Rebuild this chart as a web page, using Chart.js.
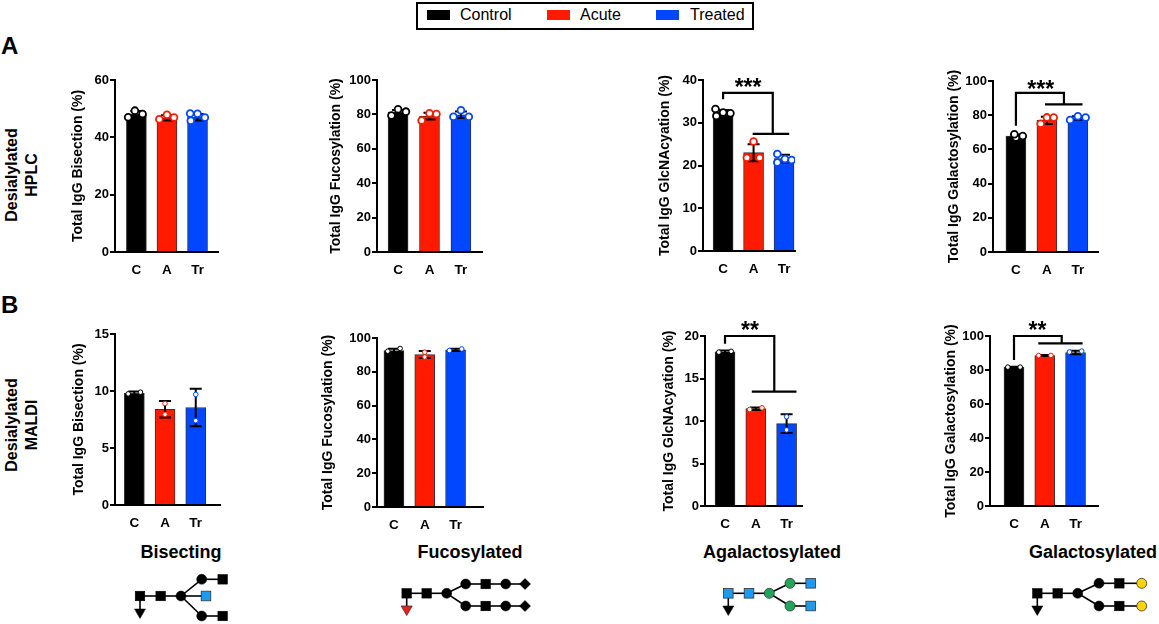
<!DOCTYPE html>
<html>
<head>
<meta charset="utf-8">
<script src="https://cdn.jsdelivr.net/npm/chart.js@4.4.1/dist/chart.umd.min.js"></script>
<style>
  body { margin: 0; width: 1159px; height: 624px; position: relative; background: #fff; overflow: hidden;
         font-family: "Liberation Sans", Arial, sans-serif; color: #000; }
  canvas { position: absolute; }
  .txt { position: absolute; font-weight: bold; white-space: nowrap; }
  #legend { position: absolute; left: 416px; top: 2px; width: 334px; height: 24px; border: 2px solid #000; }
  #legend .sw { position: absolute; top: 6px; width: 23px; height: 10px; }
  #legend .lt { position: absolute; top: 2px; font-size: 16px; line-height: 18px; }
  .row { position: absolute; width: 140px; text-align: center; font-size: 16px; line-height: 20px; font-weight: bold;
         transform: translate(-50%, -50%) rotate(-90deg); }
  .col { position: absolute; font-size: 18px; font-weight: bold; transform: translate(-50%, -50%); white-space: nowrap; }
  svg { position: absolute; left: 0; top: 0; }
</style>
</head>
<body>

<div id="legend">
  <div class="sw" style="left:9px;background:#000"></div><div class="lt" style="left:42px">Control</div>
  <div class="sw" style="left:129px;background:#ff1a00"></div><div class="lt" style="left:162px">Acute</div>
  <div class="sw" style="left:238px;background:#0047ff"></div><div class="lt" style="left:272px">Treated</div>
</div>

<div class="txt" style="left:1px;top:32px;font-size:24px">A</div>
<div class="txt" style="left:1px;top:291px;font-size:24px">B</div>

<div class="row" style="left:22px;top:175px">Desialylated<br>HPLC</div>
<div class="row" style="left:22px;top:425px">Desialylated<br>MALDI</div>

<div class="col" style="left:181px;top:552px">Bisecting</div>
<div class="col" style="left:470px;top:552px">Fucosylated</div>
<div class="col" style="left:772px;top:552px">Agalactosylated</div>
<div class="col" style="left:1093px;top:552px">Galactosylated</div>

<svg id="glycans" width="1159" height="624"></svg>

<script>
const categories = ['C', 'A', 'Tr'];
const groupColors = ['#000000', '#ff1a00', '#0047ff'];

// HPLC (row A)
const hplcBisectionMean = [48.1, 46.8, 47.0];
const hplcBisectionSd = [1.1, 0.9, 1.1];
const hplcBisectionPts = [[47.0, 49.3, 48.1], [46.3, 47.9, 46.9], [48.3, 48.2, 46.9, 45.8]];

const hplcFucosylationMean = [81.3, 79.0, 79.8];
const hplcFucosylationSd = [1.3, 2.0, 1.9];
const hplcFucosylationPts = [[79.4, 83.0, 81.6], [76.4, 80.6, 80.2], [78.6, 82.4, 78.6]];

const hplcGlcNAcMean = [32.4, 23.0, 21.6];
const hplcGlcNAcSd = [0.6, 2.0, 0.9];
const hplcGlcNAcPts = [[33.2, 31.6, 32.4, 32.2], [25.6, 21.8, 21.8], [22.7, 20.7, 21.5, 21.3]];

const hplcGalactosylationMean = [67.8, 77.0, 78.4];
const hplcGalactosylationSd = [0.9, 2.1, 1.0];
const hplcGalactosylationPts = [[67.0, 68.9, 67.8], [75.0, 78.7, 78.6], [77.2, 79.4, 78.6]];

// MALDI (row B)
const maldiBisectionMean = [9.8, 8.4, 8.55];
const maldiBisectionSd = [0.15, 0.72, 1.65];
const maldiBisectionPts = [[9.75, 9.9], [8.9, 7.95], [9.7, 7.4]];

const maldiFucosylationMean = [92.6, 90.2, 93.0];
const maldiFucosylationSd = [1.0, 2.1, 0.7];
const maldiFucosylationPts = [[92.2, 93.8], [91.6, 88.8], [92.6, 93.5]];

const maldiGlcNAcMean = [18.15, 11.45, 9.7];
const maldiGlcNAcSd = [0.15, 0.15, 1.1];
const maldiGlcNAcPts = [[18.1, 18.2], [11.35, 11.55], [10.5, 8.95]];

const maldiGalactosylationMean = [81.6, 88.5, 90.3];
const maldiGalactosylationSd = [0.3, 0.3, 1.0];
const maldiGalactosylationPts = [[81.7, 81.7], [88.5, 88.6], [90.6, 91.1]];

// significance markers
const hplcGlcNAcStars = '***';
const hplcGalactosylationStars = '***';
const maldiGlcNAcStars = '**';
const maldiGalactosylationStars = '**';

const FONT = '"Liberation Sans", Arial, sans-serif';

// bracket geometry is in data units: leg at C, top bar, drop to the A/Tr bar
const panels = [
  { title: 'Total IgG Bisection (%)', mean: hplcBisectionMean, sd: hplcBisectionSd, pts: hplcBisectionPts,
    yMax: 60, yStep: 20, big: true,
    box: { axis: 115, end: 218, top: 80, zero: 252, xMin: -0.70, xMax: 2.67, tOff: 37 },
    jitter: [[-0.27, -0.05, 0.2], [-0.25, 0, 0.23], [-0.24, 0, 0.24, -0.22]] },
  { title: 'Total IgG Fucosylation (%)', mean: hplcFucosylationMean, sd: hplcFucosylationSd, pts: hplcFucosylationPts,
    yMax: 100, yStep: 20, big: true,
    box: { axis: 377, end: 482, top: 80, zero: 252, xMin: -0.67, xMax: 2.67, tOff: 41 },
    jitter: [[-0.21, 0, 0.25], [-0.25, 0, 0.22], [-0.24, 0, 0.25]] },
  { title: 'Total IgG GlcNAcyation (%)', mean: hplcGlcNAcMean, sd: hplcGlcNAcSd, pts: hplcGlcNAcPts,
    yMax: 40, yStep: 10, big: true,
    box: { axis: 703, end: 795, top: 80, zero: 251, xMin: -0.66, xMax: 2.36, tOff: 38 },
    jitter: [[-0.25, -0.22, 0, 0.24], [0, -0.22, 0.2], [-0.22, -0.22, 0.03, 0.25]],
    sig: { stars: hplcGlcNAcStars, legX: 0, legY: 35.5, topY: 37.0, midX: 1.63, lowY: 27.4, lowX0: 0.97, lowX1: 2.17, sx: 0.82, sy: 39.6 } },
  { title: 'Total IgG Galactosylation (%)', mean: hplcGalactosylationMean, sd: hplcGalactosylationSd, pts: hplcGalactosylationPts,
    yMax: 100, yStep: 20, big: true,
    box: { axis: 993, end: 1098, top: 81, zero: 252, xMin: -0.74, xMax: 2.65, tOff: 39 },
    jitter: [[0, -0.05, 0.22], [-0.2, 0, 0.22], [-0.25, 0, 0.25]],
    sig: { stars: hplcGalactosylationStars, legX: 0, legY: 73.9, topY: 93.0, midX: 1.55, lowY: 86.3, lowX0: 0.94, lowX1: 2.15, sx: 0.8, sy: 98.5 } },
  { title: 'Total IgG Bisection (%)', mean: maldiBisectionMean, sd: maldiBisectionSd, pts: maldiBisectionPts,
    yMax: 15, yStep: 5, big: false,
    box: { axis: 115, end: 220, top: 334, zero: 505, xMin: -0.63, xMax: 2.79, tOff: 36 },
    jitter: [[-0.2, 0.2], [0, 0], [0, 0]] },
  { title: 'Total IgG Fucosylation (%)', mean: maldiFucosylationMean, sd: maldiFucosylationSd, pts: maldiFucosylationPts,
    yMax: 100, yStep: 20, big: false,
    box: { axis: 377, end: 483, top: 338, zero: 507, xMin: -0.55, xMax: 2.89, tOff: 49 },
    jitter: [[-0.2, 0.2], [0, 0], [-0.2, 0.2]] },
  { title: 'Total IgG GlcNAcyation (%)', mean: maldiGlcNAcMean, sd: maldiGlcNAcSd, pts: maldiGlcNAcPts,
    yMax: 20, yStep: 5, big: false,
    box: { axis: 705, end: 802, top: 336, zero: 506, xMin: -0.65, xMax: 2.5, tOff: 36 },
    jitter: [[-0.2, 0.2], [-0.2, 0.2], [0, 0]],
    sig: { stars: maldiGlcNAcStars, legX: 0, legY: 19.1, topY: 20.0, midX: 1.6, lowY: 13.45, lowX0: 0.87, lowX1: 2.32, sx: 0.81, sy: 21.3 } },
  { title: 'Total IgG Galactosylation (%)', mean: maldiGalactosylationMean, sd: maldiGalactosylationSd, pts: maldiGalactosylationPts,
    yMax: 100, yStep: 20, big: false,
    box: { axis: 990, end: 1098, top: 336, zero: 506, xMin: -0.78, xMax: 2.73, tOff: 39 },
    jitter: [[-0.2, 0.2], [-0.2, 0.2], [-0.2, 0.2]],
    sig: { stars: maldiGalactosylationStars, legX: 0, legY: 85.9, topY: 100, midX: 1.55, lowY: 95.7, lowX0: 0.79, lowX1: 2.23, sx: 0.76, sy: 106.5 } }
];

function makeChart(p) {
  const b = p.box;
  const padTop = 30, xH = 30, yW = 60, padR = 15;
  const w = (b.end - b.axis) + yW + padR;
  const h = (b.zero - b.top) + padTop + xH;
  const cv = document.createElement('canvas');
  cv.width = w; cv.height = h;
  cv.style.width = w + 'px'; cv.style.height = h + 'px';
  cv.style.left = (b.axis - yW) + 'px';
  cv.style.top = (b.top - padTop) + 'px';
  document.body.appendChild(cv);

  const pointData = [], pointColors = [];
  p.pts.forEach((grp, i) => grp.forEach((v, j) => {
    pointData.push({ x: i + p.jitter[i][j], y: v });
    pointColors.push(groupColors[i]);
  }));

  // error bars drawn right after the bars, under the points
  const errorBars = {
    id: 'errorBars',
    afterDatasetDraw(chart, args) {
      if (args.index !== 0) return;
      const xs = chart.scales.x, ys = chart.scales.y, ctx = chart.ctx;
      const cap = 6;
      ctx.save();
      ctx.strokeStyle = '#000';
      ctx.lineWidth = 2;
      p.mean.forEach((m, i) => {
        const x = xs.getPixelForValue(i);
        const yt = ys.getPixelForValue(m + p.sd[i]);
        const yb = ys.getPixelForValue(m - p.sd[i]);
        ctx.beginPath();
        ctx.moveTo(x, yt); ctx.lineTo(x, yb);
        ctx.moveTo(x - cap, yt); ctx.lineTo(x + cap, yt);
        ctx.moveTo(x - cap, yb); ctx.lineTo(x + cap, yb);
        ctx.stroke();
      });
      ctx.restore();
    }
  };

  const brackets = {
    id: 'brackets',
    afterDraw(chart) {
      const s = p.sig;
      if (!s) return;
      const xs = chart.scales.x, ys = chart.scales.y, ctx = chart.ctx;
      const X = v => xs.getPixelForValue(v), Y = v => ys.getPixelForValue(v);
      ctx.save();
      ctx.strokeStyle = '#000';
      ctx.lineWidth = 2.2;
      ctx.lineJoin = 'miter';
      ctx.beginPath();
      ctx.moveTo(X(s.legX), Y(s.legY));
      ctx.lineTo(X(s.legX), Y(s.topY));
      ctx.lineTo(X(s.midX), Y(s.topY));
      ctx.lineTo(X(s.midX), Y(s.lowY));
      ctx.moveTo(X(s.lowX0), Y(s.lowY));
      ctx.lineTo(X(s.lowX1), Y(s.lowY));
      ctx.stroke();
      ctx.fillStyle = '#000';
      ctx.font = 'bold 23px ' + FONT;
      ctx.textAlign = 'center';
      ctx.textBaseline = 'alphabetic';
      ctx.fillText(s.stars, X(s.sx), Y(s.sy) + 13);
      ctx.restore();
    }
  };

  const xFont = { family: FONT, size: 13.5, weight: 'bold' };
  const yFont = { family: FONT, size: 13, weight: 'bold' };
  const titleSize = 14;

  new Chart(cv, {
    type: 'bar',
    data: {
      datasets: [
        {
          type: 'bar',
          data: p.mean.map((v, i) => ({ x: i, y: v })),
          backgroundColor: groupColors,
          borderColor: '#333',
          borderWidth: 1,
          barThickness: 20,
          order: 2
        },
        {
          type: 'scatter',
          data: pointData,
          pointRadius: p.big ? 3.4 : 2.3,
          pointBorderWidth: p.big ? 1.8 : 1,
          pointBackgroundColor: '#fff',
          pointBorderColor: pointColors,
          order: 1
        }
      ]
    },
    options: {
      responsive: false,
      animation: false,
      layout: { padding: { top: padTop, right: padR, left: 0, bottom: 0 } },
      plugins: { legend: { display: false }, tooltip: { enabled: false } },
      scales: {
        x: {
          type: 'linear',
          offset: false,
          min: b.xMin,
          max: b.xMax,
          afterBuildTicks: s => { s.ticks = categories.map((c, i) => ({ value: i })); },
          afterFit: s => { s.height = xH; },
          grid: { display: false, drawTicks: false, offset: false },
          border: { color: '#000', width: 2 },
          ticks: { callback: v => categories[v], font: xFont, color: '#000', padding: 10, maxRotation: 0, autoSkip: false }
        },
        y: {
          min: 0,
          max: p.yMax,
          afterFit: s => { s.width = yW; },
          grid: { drawOnChartArea: false, drawTicks: true, tickLength: 5, color: '#000', lineWidth: 2 },
          border: { color: '#000', width: 2 },
          ticks: { stepSize: p.yStep, font: yFont, color: '#000', padding: 1 },
          title: {
            display: true,
            text: p.title,
            color: '#000',
            font: { family: FONT, size: titleSize, weight: 'bold' },
            padding: { top: yW - b.tOff - titleSize * 0.6, bottom: 0 }
          }
        }
      }
    },
    plugins: [errorBars, brackets]
  });
}

panels.forEach(makeChart);

// glycan cartoons under each column
const glycanColors = { k: '#000000', b: '#1e9bf0', r: '#e8201c', g: '#20a55a', y: '#ffd400' };
const glycans = [
  { x: 140, y: 596,
    nodes: [['sq', 0, 0, 'k'], ['tri', 0, 17, 'k'], ['sq', 20.7, 0, 'k'], ['ci', 41, 0, 'k'],
            ['ci', 61.7, -16.7, 'k'], ['sq', 82.7, -16.7, 'k'], ['sq', 66, 0, 'b'],
            ['ci', 61.7, 20, 'k'], ['sq', 82.7, 20, 'k']],
    links: [[0, 1], [0, 2], [2, 3], [3, 4], [4, 5], [3, 6], [3, 7], [7, 8]] },
  { x: 406.7, y: 593.3,
    nodes: [['sq', 0, 0, 'k'], ['tri', 0, 16.7, 'r'], ['sq', 20, 0, 'k'], ['ci', 40, 0, 'k'],
            ['ci', 59, -9.3, 'k'], ['sq', 79, -9.3, 'k'], ['ci', 99, -9.3, 'k'], ['dia', 118.3, -9.3, 'k'],
            ['ci', 59, 12.7, 'k'], ['sq', 79, 12.7, 'k'], ['ci', 99, 12.7, 'k'], ['dia', 118.3, 12.7, 'k']],
    links: [[0, 1], [0, 2], [2, 3], [3, 4], [4, 5], [5, 6], [6, 7], [3, 8], [8, 9], [9, 10], [10, 11]] },
  { x: 728.3, y: 593.3,
    nodes: [['sq', 0, 0, 'b'], ['tri', 0, 16.7, 'k'], ['sq', 20.7, 0, 'b'], ['ci', 41, 0, 'g'],
            ['ci', 61.7, -10, 'g'], ['sq', 82.4, -10, 'b'], ['ci', 61.7, 12.7, 'g'], ['sq', 82.4, 12.7, 'b']],
    links: [[0, 1], [0, 2], [2, 3], [3, 4], [4, 5], [3, 6], [6, 7]] },
  { x: 1037.3, y: 593.3,
    nodes: [['sq', 0, 0, 'k'], ['tri', 0, 16.7, 'k'], ['sq', 20.4, 0, 'k'], ['ci', 40.4, 0, 'k'],
            ['ci', 61.7, -10, 'k'], ['sq', 82, -10, 'k'], ['ci', 104.4, -10, 'y'],
            ['ci', 61.7, 12.7, 'k'], ['sq', 82, 12.7, 'k'], ['ci', 104.4, 12.7, 'y']],
    links: [[0, 1], [0, 2], [2, 3], [3, 4], [4, 5], [5, 6], [3, 7], [7, 8], [8, 9]] }
];

const svg = document.getElementById('glycans');
let out = '';
glycans.forEach(g => {
  g.links.forEach(([a, c]) => {
    const n1 = g.nodes[a], n2 = g.nodes[c];
    out += `<line x1="${g.x + n1[1]}" y1="${g.y + n1[2]}" x2="${g.x + n2[1]}" y2="${g.y + n2[2]}" stroke="#000" stroke-width="1.6"/>`;
  });
  g.nodes.forEach(([t, dx, dy, c]) => {
    const x = g.x + dx, y = g.y + dy, fill = glycanColors[c];
    const st = c === 'k' ? 'stroke="#000" stroke-width="0.5"' : 'stroke="#333" stroke-width="0.8"';
    if (t === 'sq') out += `<rect x="${x - 4.8}" y="${y - 4.8}" width="9.6" height="9.6" fill="${fill}" ${st}/>`;
    else if (t === 'ci') out += `<circle cx="${x}" cy="${y}" r="5" fill="${fill}" ${st}/>`;
    else if (t === 'tri') out += `<polygon points="${x - 5.5},${y - 4} ${x + 5.5},${y - 4} ${x},${y + 5.5}" fill="${fill}" ${st}/>`;
    else if (t === 'dia') out += `<polygon points="${x},${y - 5.5} ${x + 5.5},${y} ${x},${y + 5.5} ${x - 5.5},${y}" fill="${fill}" ${st}/>`;
  });
});
svg.innerHTML = out;
</script>
</body>
</html>
